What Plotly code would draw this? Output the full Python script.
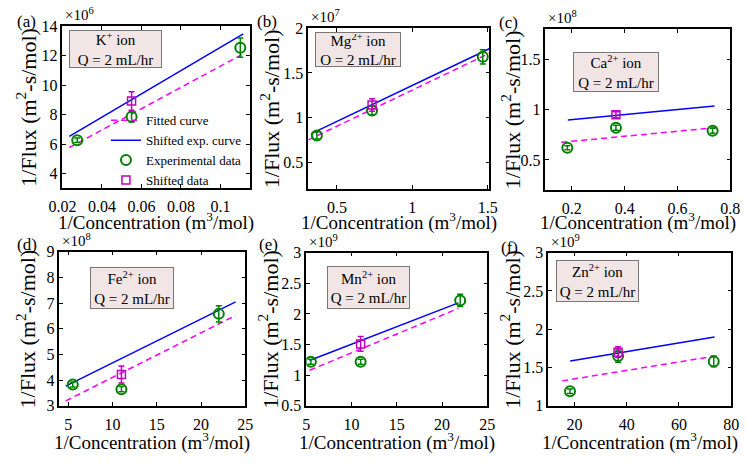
import plotly.graph_objects as go

FONT = "Liberation Serif"
W, H = 749, 463

# ---------------- data (y values in units of 10^exp) ----------------
panel_tags = ["(a)", "(b)", "(c)", "(d)", "(e)", "(f)"]
ion_names = ["K<sup>+</sup> ion", "Mg<sup>2+</sup> ion", "Ca<sup>2+</sup> ion",
             "Fe<sup>2+</sup> ion", "Mn<sup>2+</sup> ion", "Zn<sup>2+</sup> ion"]
y_exponents = [6, 7, 8, 8, 9, 9]

exp_x = [[0.0275, 0.055, 0.11], [0.367, 0.733, 1.467], [0.183, 0.367, 0.733],
         [5.5, 11, 22], [5.5, 11, 22], [18.3, 36.7, 73.3]]
exp_y = [[6.25, 7.85, 12.55], [0.80, 1.08, 1.68], [0.62, 0.82, 0.79],
         [3.83, 3.65, 6.58], [1.22, 1.22, 2.22], [1.19, 1.65, 1.58]]
exp_err = [[0.15, 0.35, 0.65], [0.04, 0.05, 0.08], [0.02, 0.025, 0.025],
           [0.1, 0.1, 0.32], [0.04, 0.04, 0.1], [0.03, 0.08, 0.07]]

shift_x = [[0.055], [0.733], [0.367], [11], [11], [36.7]]
shift_y = [[8.92], [1.14], [0.95], [4.22], [1.51], [1.70]]
shift_err = [[0.63], [0.07], [0.03], [0.33], [0.12], [0.07]]

fit_x = [[0.0235, 0.1115], [0.31, 1.51], [0.16, 0.76],
         [4.7, 23.9], [5.35, 21.8], [15.3, 73.6]]
fit_y = [[5.76, 12.13], [0.75, 1.72], [0.675, 0.825],
         [3.19, 6.52], [1.08, 2.09], [1.326, 1.649]]

sexp_x = [[0.0235, 0.1115], [0.33, 1.51], [0.185, 0.74],
          [4.7, 23.9], [5.35, 21.8], [18.4, 73.6]]
sexp_y = [[6.52, 13.49], [0.82, 1.77], [0.898, 1.036],
          [3.77, 7.05], [1.24, 2.18], [1.586, 1.90]]

x_ranges = [[0.02, 0.115], [0.31, 1.51], [0.1, 0.8], [4, 25], [5, 25], [10, 80]]
y_ranges = [[3, 14], [0.2, 2], [0.2, 1.8], [3, 9], [0.5, 3], [1, 3]]
x_ticks = [[0.02, 0.04, 0.06, 0.08, 0.1], [0.5, 1, 1.5], [0.2, 0.4, 0.6, 0.8],
           [5, 10, 15, 20, 25], [5, 10, 15, 20, 25], [20, 40, 60, 80]]
y_ticks = [[4, 6, 8, 10, 12, 14], [0.5, 1, 1.5, 2], [0.5, 1, 1.5],
           [3, 4, 5, 6, 7, 8, 9], [0.5, 1, 1.5, 2, 2.5, 3], [1, 1.5, 2, 2.5, 3]]

legend_names = ["Fitted curve", "Shifted exp. curve", "Experimental data", "Shifted data"]

# ---------------- layout geometry (pixels) ----------------
# left, right, top, bottom of each plot box
boxes = [(50, 244, 19, 187), (304, 491, 21, 188), (549, 740, 22, 189),
         (47, 239, 253, 413), (302, 489, 254, 413), (552, 741, 254, 413)]
# ion label boxes: left, top, width, height
ion_boxes = [(57, 23, 93, 38), (311, 25, 86, 35), (577, 46, 86, 40),
             (79, 269, 84, 42), (323, 268, 83, 43), (560, 262, 83, 42)]
tag_pos = [(13, 14), (261, 14), (511, 15), (13, 246), (263, 246), (512, 249)]
ytitle_x = [13, 264, 513, 12, 263, 513]


def px(x):
    return x / W


def py(y):
    return 1 - y / H


GREEN = "#008000"
MAG_LINE = "#ff00ff"
MAG_PT = "#c000c0"
BLUE = "#0000ff"

fig = go.Figure()
layout = dict(width=W, height=H, margin=dict(l=0, r=0, t=0, b=0),
              paper_bgcolor="white", plot_bgcolor="white",
              font=dict(family=FONT, color="black"))
annotations = []

axis_common = dict(showline=True, linecolor="black", linewidth=1.5, mirror="ticks",
                   ticks="inside", ticklen=4, tickwidth=1, tickcolor="black",
                   showgrid=False, zeroline=False,
                   tickfont=dict(family=FONT, size=16, color="black"))

for i in range(6):
    n = "" if i == 0 else str(i + 1)
    xa, ya = "x" + n, "y" + n
    L, R, T, B = boxes[i]
    layout["xaxis" + n] = dict(axis_common, domain=[px(L), px(R)], range=x_ranges[i],
                               tickvals=x_ticks[i], anchor=ya, ticklabelstandoff=3)
    layout["yaxis" + n] = dict(axis_common, domain=[py(B), py(T)], range=y_ranges[i],
                               tickvals=y_ticks[i], anchor=xa)
    show = i == 0
    fig.add_trace(go.Scatter(x=fit_x[i], y=fit_y[i], mode="lines", xaxis=xa, yaxis=ya,
                             line=dict(color=MAG_LINE, width=1.5, dash="6px,4px"),
                             name=legend_names[0], showlegend=show))
    fig.add_trace(go.Scatter(x=sexp_x[i], y=sexp_y[i], mode="lines", xaxis=xa, yaxis=ya,
                             line=dict(color=BLUE, width=1.5),
                             name=legend_names[1], showlegend=show))
    fig.add_trace(go.Scatter(x=exp_x[i], y=exp_y[i], mode="markers", xaxis=xa, yaxis=ya,
                             marker=dict(symbol="circle-open", size=10, color=GREEN,
                                         line=dict(width=2, color=GREEN)),
                             error_y=dict(type="data", array=exp_err[i], color=GREEN,
                                          thickness=1.5, width=3),
                             name=legend_names[2], showlegend=show))
    fig.add_trace(go.Scatter(x=shift_x[i], y=shift_y[i], mode="markers", xaxis=xa, yaxis=ya,
                             marker=dict(symbol="square-open", size=8, color=MAG_PT,
                                         line=dict(width=1.5, color=MAG_PT)),
                             error_y=dict(type="data", array=shift_err[i], color=MAG_PT,
                                          thickness=1.5, width=3),
                             name=legend_names[3], showlegend=show))

    # panel tag
    tx, ty = tag_pos[i]
    annotations.append(dict(text=panel_tags[i], x=px(tx), y=py(ty), xref="paper", yref="paper",
                            xanchor="center", yanchor="middle", showarrow=False,
                            font=dict(family=FONT, size=17)))
    # exponent label
    annotations.append(dict(text="\u00d710<sup>%d</sup>" % y_exponents[i], x=px(L + 1), y=py(T - 1),
                            xref="paper", yref="paper", xanchor="left", yanchor="bottom",
                            showarrow=False, font=dict(family=FONT, size=15)))
    # y title
    annotations.append(dict(text="1/Flux (m<sup>2</sup>-s/mol)", x=px(ytitle_x[i]), y=py((T + B) / 2),
                            xref="paper", yref="paper", xanchor="center", yanchor="middle",
                            textangle=-90, showarrow=False, font=dict(family=FONT, size=22)))
    # x title
    xt_y = 222 if i < 3 else 450
    annotations.append(dict(text="1/Concentration (m<sup>3</sup>/mol)", x=px((L + R) / 2), y=py(xt_y),
                            xref="paper", yref="paper", xanchor="center", yanchor="middle",
                            showarrow=False, font=dict(family=FONT, size=19)))
    # ion box
    bl, bt, bw, bh = ion_boxes[i]
    annotations.append(dict(text=ion_names[i] + "<br>Q = 2 mL/hr", x=px(bl), y=py(bt),
                            xref="paper", yref="paper", xanchor="left", yanchor="top",
                            width=bw - 4, height=bh - 4, align="center", valign="middle",
                            bgcolor="#f1e5e5", bordercolor="#777777", borderwidth=1, borderpad=1,
                            showarrow=False, font=dict(family=FONT, size=15)))

layout["annotations"] = annotations
layout["legend"] = dict(x=px(95), y=py(101), xanchor="left", yanchor="top",
                        bgcolor="rgba(0,0,0,0)", borderwidth=0, tracegroupgap=0,
                        font=dict(family=FONT, size=13), itemwidth=30)
fig.update_layout(**layout)
fig.write_html("out.html")
